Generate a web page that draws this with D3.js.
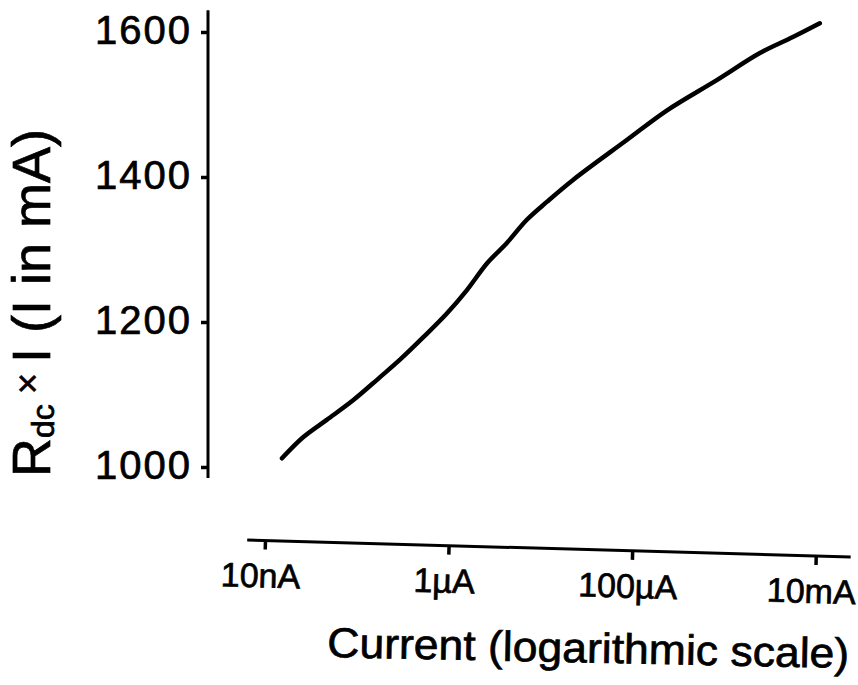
<!DOCTYPE html>
<html>
<head>
<meta charset="utf-8">
<script src="https://cdn.jsdelivr.net/npm/d3@7"></script>
<style>
  html, body { margin: 0; padding: 0; background: #fff; }
  svg { display: block; }
  text { font-family: "Liberation Sans", Arial, sans-serif; fill: #000; stroke: #000; stroke-width: 0.7px; }
</style>
</head>
<body>
<svg id="chart" width="858" height="685"></svg>
<script>
// ---- data ----
const currentA = [1.53e-8, 2.6e-8, 4.7e-8, 9.1e-8, 1.79e-7, 2.95e-7, 5.3e-7, 9.6e-7,
                  1.58e-6, 2.62e-6, 4.3e-6, 7.1e-6, 1.18e-5, 2.26e-5, 8.7e-5, 2.39e-4,
                  8.4e-4, 2.45e-3, 5.6e-3, 1.1e-2];
const rdcTimesI = [1012, 1041, 1065, 1092, 1124, 1148, 1179, 1212,
                   1244, 1281, 1309, 1341, 1366, 1396, 1451, 1492,
                   1534, 1571, 1593, 1612];
const xTickValues = [1e-8, 1e-6, 1e-4, 1e-2];
const xTickLabels = ["10nA", "1\u00B5A", "100\u00B5A", "10mA"];
const yTickValues = [1000, 1200, 1400, 1600];
const xAxisExtent = [6.4e-9, 2.4e-2];
const yAxisExtent = [985, 1630];
const xTitle = "Current (logarithmic scale)";

// ---- layout ----
const svg = d3.select("#chart");
const x = d3.scaleLog().domain([1e-8, 1e-2]).range([265, 816]);
const y = d3.scaleLinear().domain([1000, 1600]).range([467, 32]);
const yAxisX = 208;
const xAxisY = 540;
const xTilt = 1.61;

// ---- y axis ----
const gy = svg.append("g").attr("transform", `translate(${yAxisX},0)`);
gy.call(d3.axisLeft(y).tickValues(yTickValues).tickSize(7).tickPadding(9).tickFormat(d3.format("d")));
gy.select(".domain").remove();
gy.selectAll(".tick line").attr("stroke", "#000").attr("stroke-width", 3.5);
gy.selectAll(".tick text").attr("font-size", 40).attr("dy", "0.28em").attr("letter-spacing", 2);
gy.append("line")
  .attr("x1", 0).attr("x2", 0)
  .attr("y1", y(yAxisExtent[0])).attr("y2", y(yAxisExtent[1]))
  .attr("stroke", "#000").attr("stroke-width", 3);

// ---- x axis (slightly tilted like the hand drawing) ----
const gx = svg.append("g")
  .attr("transform", `rotate(${xTilt},${x(xAxisExtent[0])},${xAxisY}) translate(0,${xAxisY})`);
gx.call(d3.axisBottom(x).tickValues(xTickValues).tickSize(9)
  .tickFormat((d, i) => xTickLabels[i]));
gx.select(".domain").remove();
gx.selectAll(".tick line").attr("stroke", "#000").attr("stroke-width", 3.5);
gx.selectAll(".tick text")
  .attr("font-size", 34).attr("y", 47).attr("dy", 0).attr("dx", -4);
gx.append("line")
  .attr("x1", x(xAxisExtent[0])).attr("x2", x(xAxisExtent[1]))
  .attr("y1", 0).attr("y2", 0)
  .attr("stroke", "#000").attr("stroke-width", 3);

// ---- axis titles ----
svg.append("text")
  .attr("x", 327).attr("y", 657)
  .attr("transform", "rotate(1.2,327,657)")
  .attr("font-size", 42)
  .attr("textLength", 522).attr("lengthAdjust", "spacingAndGlyphs")
  .text(xTitle);

const yt = svg.append("text")
  .attr("transform", "translate(50,303) rotate(-90)")
  .attr("text-anchor", "middle")
  .attr("font-size", 54);
yt.append("tspan").text("R");
yt.append("tspan").attr("font-size", 32).attr("dy", 4).text("dc");
yt.append("tspan").attr("font-size", 36).attr("dy", -14).text(" \u00D7 ");
yt.append("tspan").attr("dy", 10).text("I (I in mA)");

// ---- curve ----
const data = currentA.map((c, i) => ({ c, v: rdcTimesI[i] }));
svg.append("path")
  .datum(data)
  .attr("fill", "none")
  .attr("stroke", "#000")
  .attr("stroke-width", 4.5)
  .attr("stroke-linecap", "round")
  .attr("stroke-linejoin", "round")
  .attr("d", d3.line().x(d => x(d.c)).y(d => y(d.v)).curve(d3.curveCatmullRom));
</script>
</body>
</html>
